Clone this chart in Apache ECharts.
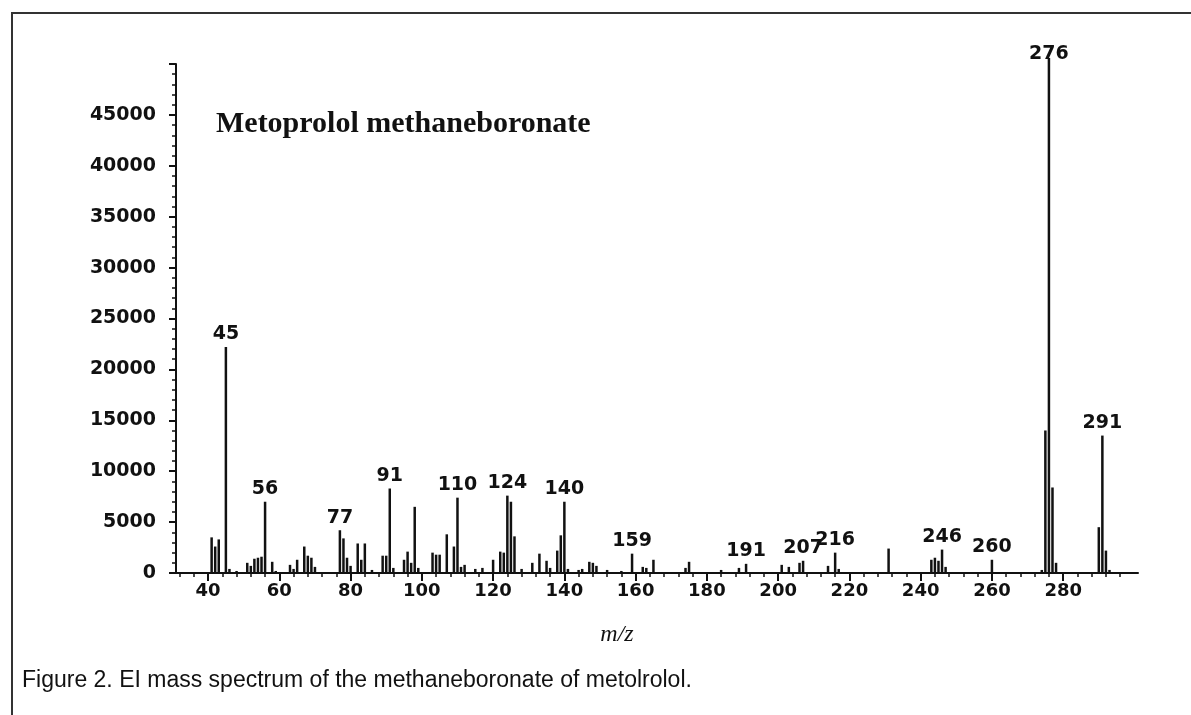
<!DOCTYPE html>
<html>
<head>
<meta charset="utf-8">
<script src="https://cdn.jsdelivr.net/npm/echarts@6/dist/echarts.min.js"></script>
<style>
  html, body { margin: 0; padding: 0; background: #fff; }
  #chart { width: 1191px; height: 715px; }
</style>
</head>
<body>
<div id="chart"></div>
<script>
// m/z and abundance
const mzValues = [
  41, 42, 43, 45, 46, 48, 51, 52, 53, 54, 55, 56, 58, 59,
  63, 64, 65, 67, 68, 69, 70, 77, 78, 79, 80, 82, 83, 84, 86,
  89, 90, 91, 92, 95, 96, 97, 98, 99, 103, 104, 105, 107, 109, 110,
  111, 112, 115, 117, 120, 122, 123, 124, 125, 126, 128, 131, 133, 135, 136,
  138, 139, 140, 141, 144, 145, 147, 148, 149, 152, 156, 159, 162, 163, 165,
  174, 175, 184, 189, 191, 201, 203, 206, 207, 214, 216, 217,
  231, 243, 244, 245, 246, 247, 260, 274, 275, 276, 277, 278, 290, 291, 292, 293
]
const intensities = [
  3500, 2600, 3300, 22200, 400, 200, 1000, 700, 1400, 1500, 1600, 7000, 1100, 200,
  800, 400, 1300, 2600, 1700, 1500, 600, 4200, 3400, 1500, 700, 2900, 1300, 2900, 300,
  1700, 1700, 8300, 500, 1300, 2100, 1000, 6500, 500, 2000, 1800, 1800, 3800, 2600, 7400,
  600, 800, 400, 500, 1300, 2100, 2000, 7600, 7000, 3600, 400, 1000, 1900, 1200, 500,
  2200, 3700, 7000, 400, 300, 400, 1100, 1000, 700, 300, 200, 1900, 600, 500, 1300,
  500, 1100, 300, 500, 900, 800, 600, 1000, 1200, 700, 2000, 400,
  2400, 1300, 1500, 1200, 2300, 600, 1300, 300, 14000, 50600, 8400, 1000, 4500, 13500, 2200, 300
]
const labelledPeaks = [45, 56, 77, 91, 110, 124, 140, 159, 191, 207, 216, 246, 260, 276, 291]

const xTickValues = [40, 60, 80, 100, 120, 140, 160, 180, 200, 220, 240, 260, 280]
const xMinorValues = []
for (let v = 32; v <= 300; v += 4) {
  if (v % 20 !== 0) xMinorValues.push(v)
}

const seriesData = mzValues.map((m, i) => {
  const item = { value: [m, intensities[i]] }
  if (labelledPeaks.includes(m)) {
    item.label = { show: true }
    if (m === 276) item.label.distance = -6
  }
  return item
})

const chart = echarts.init(document.getElementById('chart'))

const tickFont = {
  fontFamily: 'DejaVu Sans',
  fontWeight: 'bold',
  color: '#111'
}

chart.setOption({
  animation: false,
  backgroundColor: '#fff',
  grid: {
    left: 176, right: 53, top: 64, bottom: 142,
    containLabel: false,
    outerBoundsMode: 'none'
  },
  xAxis: [
    {
      type: 'value',
      position: 'bottom',
      min: 31,
      max: 301,
      axisLine: { lineStyle: { color: '#111', width: 2 } },
      axisTick: { length: 8, lineStyle: { color: '#111', width: 2 }, customValues: xTickValues },
      axisLabel: { ...tickFont, fontSize: 18, margin: 9, customValues: xTickValues },
      splitLine: { show: false }
    },
    {
      type: 'value',
      position: 'bottom',
      min: 31,
      max: 301,
      axisLine: { show: false },
      axisTick: { length: 4, lineStyle: { color: '#111', width: 1.5 }, customValues: xMinorValues },
      axisLabel: { show: false },
      splitLine: { show: false }
    }
  ],
  yAxis: {
    type: 'value',
    min: 0,
    max: 50000,
    interval: 5000,
    axisLine: { show: true, lineStyle: { color: '#111', width: 2 } },
    axisTick: { show: true, length: 7, lineStyle: { color: '#111', width: 2 } },
    minorTick: { show: true, splitNumber: 5, length: 4, lineStyle: { color: '#111', width: 1.5 } },
    axisLabel: {
      ...tickFont,
      fontSize: 19,
      margin: 20,
      formatter: v => (v === 50000 ? '' : String(v))
    },
    splitLine: { show: false }
  },
  series: [
    {
      type: 'bar',
      xAxisIndex: 0,
      barWidth: 2.5,
      clip: false,
      itemStyle: { color: '#111' },
      label: {
        show: false,
        position: 'top',
        distance: 3,
        ...tickFont,
        fontSize: 19,
        formatter: p => String(p.value[0])
      },
      data: seriesData
    }
  ],
  graphic: [
    {
      type: 'polyline',
      shape: { points: [[12, 715], [12, 13], [1191, 13]] },
      style: { stroke: '#333', lineWidth: 2, fill: null }
    },
    {
      type: 'text',
      style: {
        x: 216, y: 124,
        text: 'Metoprolol methaneboronate',
        font: 'bold 30px "Liberation Serif"',
        fill: '#111',
        verticalAlign: 'middle'
      }
    },
    {
      type: 'text',
      style: {
        x: 617, y: 635,
        text: 'm/z',
        font: 'italic 24px "Liberation Serif"',
        fill: '#111',
        align: 'center',
        verticalAlign: 'middle'
      }
    },
    {
      type: 'text',
      style: {
        x: 22, y: 681,
        text: 'Figure 2. EI mass spectrum of the methaneboronate of metolrolol.',
        font: '23px "Liberation Sans"',
        fill: '#111',
        verticalAlign: 'middle'
      }
    }
  ]
})

window.addEventListener('resize', () => chart.resize())
</script>
</body>
</html>
